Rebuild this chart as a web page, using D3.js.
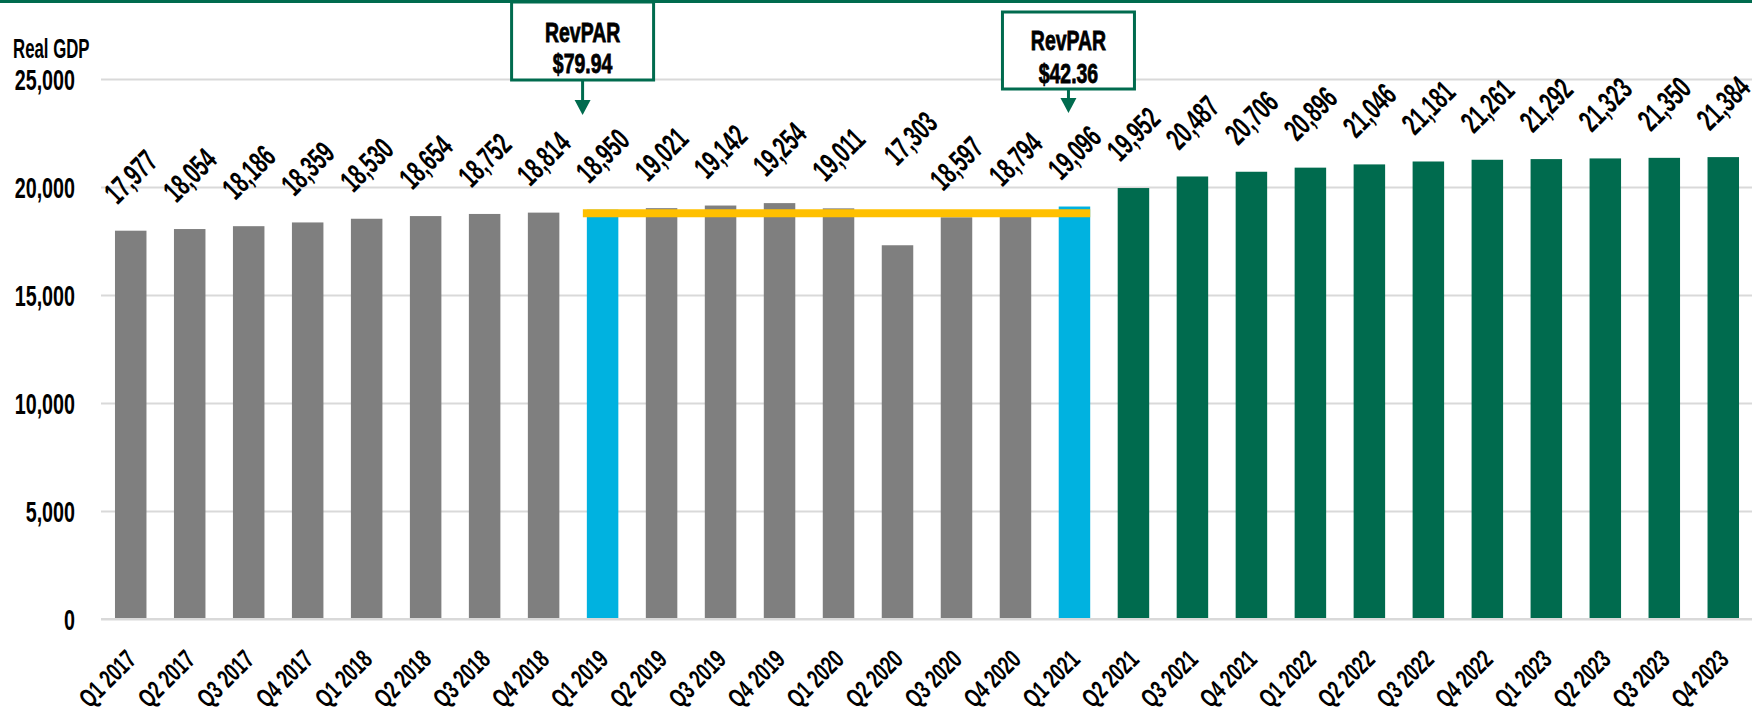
<!DOCTYPE html>
<html>
<head>
<meta charset="utf-8">
<script src="https://cdn.jsdelivr.net/npm/d3@7"></script>
<style>
  html, body { margin: 0; padding: 0; background: #ffffff; }
  svg { display: block; }
  text { font-family: "Liberation Sans", Arial, sans-serif; fill: #000; }
</style>
</head>
<body>
<svg id="chart" width="1752" height="713"></svg>
<script>
// ---- data ----
const categories = [
  "Q1 2017","Q2 2017","Q3 2017","Q4 2017",
  "Q1 2018","Q2 2018","Q3 2018","Q4 2018",
  "Q1 2019","Q2 2019","Q3 2019","Q4 2019",
  "Q1 2020","Q2 2020","Q3 2020","Q4 2020",
  "Q1 2021","Q2 2021","Q3 2021","Q4 2021",
  "Q1 2022","Q2 2022","Q3 2022","Q4 2022",
  "Q1 2023","Q2 2023","Q3 2023","Q4 2023"
];
const gdpValues = [
  17977, 18054, 18186, 18359,
  18530, 18654, 18752, 18814,
  18950, 19021, 19142, 19254,
  19011, 17303, 18597, 18794,
  19096, 19952, 20487, 20706,
  20896, 21046, 21181, 21261,
  21292, 21323, 21350, 21384
];
const revparQuarters = ["Q1 2019", "Q1 2021"];
const revparValues = ["$79.94", "$42.36"];
const forecastStart = "Q2 2021";
const benchmarkLevel = 18780;
const yTicks = [0, 5000, 10000, 15000, 20000, 25000];
const yAxisTitle = "Real GDP";

// ---- layout ----
const W = 1752, H = 713;
const GREEN = "#006B4E", GRAY = "#7F7F7F", BLUE = "#00B2E0", YELLOW = "#FFC000", GRID = "#D9D9D9";
const FONT = '"Liberation Sans", Arial, sans-serif';
const SX = 0.63; // horizontal condensing of text glyphs
const svg = d3.select("#chart");

const x = d3.scaleBand().domain(categories).range([101, 1753]).paddingInner(0.466).paddingOuter(0.237);
const y = d3.scaleLinear().domain([0, 25000]).range([619, 79]);
const bw = x.bandwidth();
const forecastIdx = categories.indexOf(forecastStart);
const fmt = d3.format(",");

function barColor(c, i) {
  if (revparQuarters.includes(c)) return BLUE;
  if (i >= forecastIdx) return GREEN;
  return GRAY;
}

// y axis + gridlines
const yAxis = d3.axisLeft(y).tickValues(yTicks).tickFormat(fmt).tickSizeInner(-(W - 101)).tickSizeOuter(0).tickPadding(26);
const gy = svg.append("g").attr("transform", "translate(101,0)").call(yAxis);
gy.select(".domain").remove();
gy.selectAll(".tick line").attr("stroke", GRID).attr("stroke-width", 2);
gy.selectAll(".tick text")
  .attr("x", 0).attr("dy", "0.36em")
  .attr("text-anchor", "end")
  .attr("transform", `translate(-26,0) scale(0.68,1)`)
  .attr("font-size", 29).attr("font-weight", 700).attr("fill", "#000")
  .style("font-family", FONT);

svg.append("text").attr("transform", `translate(13,58) scale(0.6,1)`).attr("font-size", 28).attr("font-weight", 700).text(yAxisTitle);

// bars
svg.append("g").selectAll("rect").data(categories).join("rect")
  .attr("x", d => x(d))
  .attr("y", (d, i) => y(gdpValues[i]))
  .attr("width", bw)
  .attr("height", (d, i) => y(0) - y(gdpValues[i]))
  .attr("fill", (d, i) => barColor(d, i));

// baseline redraw over bars
svg.append("line").attr("x1", 101).attr("x2", W).attr("y1", y(0)).attr("y2", y(0))
  .attr("stroke", GRID).attr("stroke-width", 2);

// benchmark (yellow) line
svg.append("line")
  .attr("x1", x(revparQuarters[0]) - 4)
  .attr("x2", x(revparQuarters[1]) + bw)
  .attr("y1", y(benchmarkLevel)).attr("y2", y(benchmarkLevel))
  .attr("stroke", YELLOW).attr("stroke-width", 8);

// value labels
const labelNudge = { "Q2 2020": [13, -53] };
svg.append("g").selectAll("text").data(categories).join("text")
  .attr("transform", (d, i) => {
    const n = labelNudge[d] || [0, 0];
    return `translate(${x(d) + bw / 2 + n[0]},${y(gdpValues[i]) - 54 + n[1]}) rotate(-45) scale(${SX},1)`;
  })
  .attr("text-anchor", "middle")
  .attr("dominant-baseline", "central")
  .attr("font-size", 31)
  .attr("font-weight", 700)
  .text((d, i) => fmt(gdpValues[i]));

// x axis
const xAxis = d3.axisBottom(x).tickSize(0).tickPadding(0);
const gx = svg.append("g").attr("transform", `translate(0,${y(0)})`).call(xAxis);
gx.select(".domain").remove();
gx.selectAll(".tick text")
  .attr("x", 0).attr("y", 0).attr("dy", 0)
  .attr("text-anchor", "end")
  .attr("transform", "translate(7,42) rotate(-45) scale(0.68,1)")
  .attr("font-size", 26).attr("font-weight", 700).attr("fill", "#000")
  .style("font-family", FONT);

// callouts
const calloutGeom = [
  { dx: -20, top: 2, bottom: 80, w: 142, line1: 42, line2: 73, head: 100, tip: 115 },
  { dx: -6, top: 12, bottom: 89, w: 132, line1: 50, line2: 83, head: 98, tip: 113 }
];
revparQuarters.forEach((q, k) => {
  const g = calloutGeom[k];
  const cx = x(q) + bw / 2 + g.dx;
  const grp = svg.append("g");
  grp.append("rect").attr("x", cx - g.w / 2).attr("y", g.top).attr("width", g.w).attr("height", g.bottom - g.top)
    .attr("fill", "#fff").attr("stroke", GREEN).attr("stroke-width", 3);
  grp.append("text").attr("transform", `translate(${cx},${g.line1}) scale(0.72,1)`).attr("text-anchor", "middle")
    .attr("font-size", 27).attr("font-weight", 700).attr("stroke", "#000").attr("stroke-width", 0.8).text("RevPAR");
  grp.append("text").attr("transform", `translate(${cx},${g.line2}) scale(0.72,1)`).attr("text-anchor", "middle")
    .attr("font-size", 27).attr("font-weight", 700).attr("stroke", "#000").attr("stroke-width", 0.8).text(revparValues[k]);
  grp.append("line").attr("x1", cx).attr("x2", cx).attr("y1", g.bottom).attr("y2", g.head + 1)
    .attr("stroke", GREEN).attr("stroke-width", 3);
  grp.append("path").attr("d", `M${cx - 8},${g.head} L${cx + 8},${g.head} L${cx},${g.tip} Z`).attr("fill", GREEN);
});

// top rule
svg.append("rect").attr("x", 0).attr("y", 0).attr("width", W).attr("height", 3).attr("fill", GREEN);
</script>
</body>
</html>
